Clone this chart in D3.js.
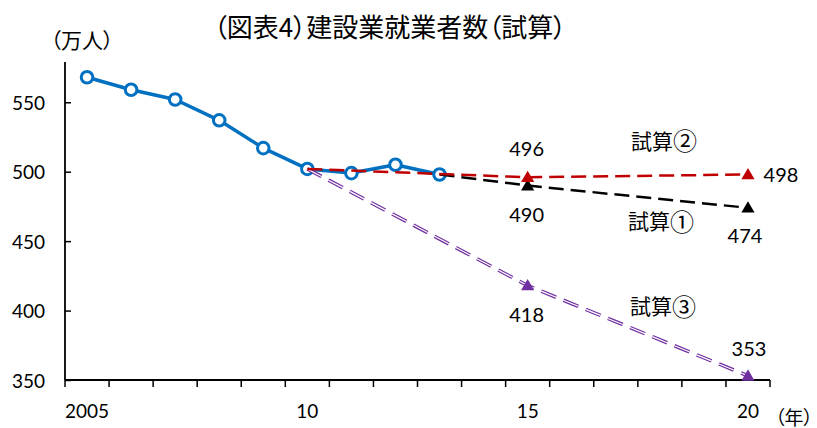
<!DOCTYPE html>
<html>
<head>
<meta charset="utf-8">
<script src="https://cdn.jsdelivr.net/npm/d3@7"></script>
<style>
  html, body { margin: 0; padding: 0; background: #fff; }
  svg { display: block; }
  text { font-family: Lato, "Noto Sans CJK JP", sans-serif; fill: #000; }
  .jp { font-family: "Noto Sans CJK JP", sans-serif; font-feature-settings: "palt" 1; }
</style>
</head>
<body>
<svg id="chart" width="817" height="428"></svg>
<script>
// Years on the category axis (2005–2020)
const years = d3.range(2005, 2021);
const yearLabels = { 2005: "2005", 2010: "10", 2015: "15", 2020: "20" };

// Actual employment in construction (万人), 2005–2013
const actualYears = [2005, 2006, 2007, 2008, 2009, 2010, 2011, 2012, 2013];
const actualValues = [568, 559, 552, 537, 517, 502, 499, 505, 498];

// Projections
const caseOneYears = [2013, 2015, 2020];
const caseOneValues = [498, 490, 474];
const caseTwoYears = [2010, 2015, 2020];
const caseTwoValues = [502, 496, 498];
const caseThreeYears = [2010, 2015, 2020];
const caseThreeValues = [502, 418, 353];

const yTicks = [350, 400, 450, 500, 550];

const svg = d3.select("#chart");

const x = d3.scaleBand().domain(years).range([65, 770]).padding(0);
const y = d3.scaleLinear().domain([350, 579]).range([380, 62]);
const cx = yr => x(yr) + x.bandwidth() / 2;

// Title and axis captions
svg.append("text").attr("class", "jp").attr("x", 390).attr("y", 25).attr("text-anchor", "middle")
  .attr("dominant-baseline", "central").style("font-size", "26px")
  .text("（図表4）建設業就業者数（試算）");
svg.append("text").attr("class", "jp").attr("x", 82).attr("y", 39).attr("text-anchor", "middle")
  .attr("dominant-baseline", "central").style("font-size", "21px")
  .text("（万人）");
svg.append("text").attr("class", "jp").attr("x", 813).attr("y", 416).attr("text-anchor", "end")
  .attr("dominant-baseline", "central").style("font-size", "19px")
  .text("（年）");

// Y axis
const yAxis = d3.axisRight(y).tickValues(yTicks).tickSize(6).tickFormat("");
const gy = svg.append("g").attr("transform", "translate(65,0)").call(yAxis);
gy.select(".domain").remove();
gy.selectAll(".tick line").attr("stroke", "#000").attr("stroke-width", 1.5);
svg.append("line").attr("x1", 65).attr("x2", 65).attr("y1", y.range()[1]).attr("y2", y(350))
  .attr("stroke", "#000").attr("stroke-width", 1.8);
svg.append("g").selectAll("text").data(yTicks).join("text")
  .attr("x", 45).attr("y", d => y(d)).attr("text-anchor", "end")
  .attr("dominant-baseline", "central").style("font-size", "19px")
  .text(d => d);

// X axis: ticks on category boundaries
const boundaries = years.map(yr => x(yr)).concat([x.range()[1]]);
const xg = svg.append("g");
xg.append("line").attr("x1", 65).attr("x2", 770).attr("y1", y(350)).attr("y2", y(350))
  .attr("stroke", "#000").attr("stroke-width", 1.8);
xg.selectAll("line.tick").data(boundaries).join("line").attr("class", "tick")
  .attr("x1", d => d).attr("x2", d => d).attr("y1", y(350)).attr("y2", y(350) + 7)
  .attr("stroke", "#000").attr("stroke-width", 1.5);
xg.selectAll("text").data(years.filter(yr => yearLabels[yr])).join("text")
  .attr("x", d => cx(d)).attr("y", 410).attr("text-anchor", "middle")
  .attr("dominant-baseline", "central").style("font-size", "19px")
  .text(d => yearLabels[d]);

const line = d3.line().x(d => cx(d[0])).y(d => y(d[1]));
const zip = (a, b) => a.map((v, i) => [v, b[i]]);

// Actual series
svg.append("path").datum(zip(actualYears, actualValues)).attr("d", line)
  .attr("fill", "none").attr("stroke", "#0070C0").attr("stroke-width", 3.5)
  .attr("stroke-linejoin", "round");
svg.append("g").selectAll("circle").data(zip(actualYears, actualValues)).join("circle")
  .attr("cx", d => cx(d[0])).attr("cy", d => y(d[1])).attr("r", 5.8)
  .attr("fill", "#fff").attr("stroke", "#0070C0").attr("stroke-width", 3);

// Projection ③: purple double dashed line
const p3 = zip(caseThreeYears, caseThreeValues);
svg.append("path").datum(p3).attr("d", line).attr("fill", "none")
  .attr("stroke", "#7030A0").attr("stroke-width", 3.6).attr("stroke-dasharray", "16,8");
svg.append("path").datum(p3).attr("d", line).attr("fill", "none")
  .attr("stroke", "#fff").attr("stroke-width", 1.2).attr("stroke-dasharray", "16,8");

// Projection ①: black dashed
const p1 = zip(caseOneYears, caseOneValues);
svg.append("path").datum(p1).attr("d", line).attr("fill", "none")
  .attr("stroke", "#000").attr("stroke-width", 2.5).attr("stroke-dasharray", "15,7");

// Projection ②: red dashed
const p2 = zip(caseTwoYears, caseTwoValues);
svg.append("path").datum(p2).attr("d", line).attr("fill", "none")
  .attr("stroke", "#C00000").attr("stroke-width", 2.5).attr("stroke-dasharray", "15,7");

// Triangle markers at 2015 and 2020
const tri = d3.symbol().type(d3.symbolTriangle).size(75);
function markers(pts, color) {
  svg.append("g").selectAll("path").data(pts.filter(d => d[0] >= 2015)).join("path")
    .attr("d", tri).attr("transform", d => `translate(${cx(d[0])},${y(d[1]) + 1})`)
    .attr("fill", color);
}
markers(p3, "#7030A0");
markers(p1, "#000");
markers(p2, "#C00000");

// Value labels
const valueLabels = [
  { yr: 2015, v: 496, dx: -1, dy: -29 },
  { yr: 2015, v: 490, dx: -1, dy: 28 },
  { yr: 2015, v: 418, dx: -1, dy: 28 },
  { yr: 2020, v: 498, dx: 33, dy: 0 },
  { yr: 2020, v: 474, dx: -3, dy: 27 },
  { yr: 2020, v: 353, dx: 1, dy: -28 }
];
svg.append("g").selectAll("text").data(valueLabels).join("text")
  .attr("x", d => cx(d.yr) + d.dx).attr("y", d => y(d.v) + d.dy)
  .attr("text-anchor", "middle").attr("dominant-baseline", "central")
  .style("font-size", "20px").text(d => d.v);

// Series names: "試算" followed by an enlarged circled numeral
const seriesNames = [
  { name: "試算", mark: "②", x: 631, v: 523 },
  { name: "試算", mark: "①", x: 628, v: 465 },
  { name: "試算", mark: "③", x: 630, v: 404 }
];
const names = svg.append("g").selectAll("g").data(seriesNames).join("g")
  .attr("transform", d => `translate(${d.x},${y(d.v)})`);
names.append("text").attr("class", "jp").attr("x", 0).attr("y", 0)
  .attr("dominant-baseline", "central").style("font-size", "21px")
  .text(d => d.name);
names.append("text").attr("class", "jp").attr("x", 42).attr("y", 0)
  .attr("dominant-baseline", "central").style("font-size", "24px")
  .text(d => d.mark);
</script>
</body>
</html>
